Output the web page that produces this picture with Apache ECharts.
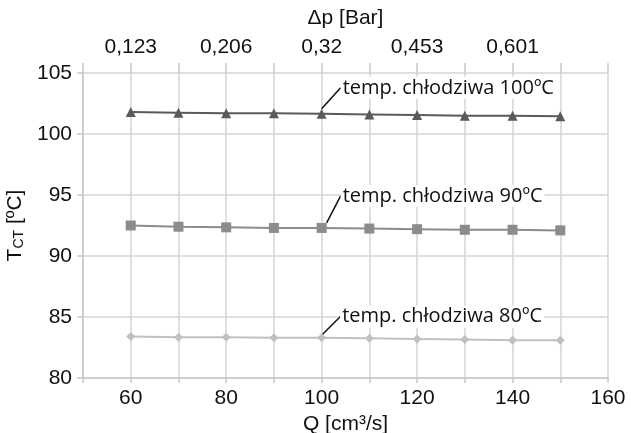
<!DOCTYPE html>
<html>
<head>
<meta charset="utf-8">
<script src="https://cdn.jsdelivr.net/npm/echarts@6/dist/echarts.min.js"></script>
<style>
  html, body { margin: 0; padding: 0; background: #fff; }
  #chart { width: 631px; height: 433px; }
</style>
</head>
<body>
<div id="chart"></div>
<script>
// przepływ Q [cm3/s]
var qValues = [60, 70, 80, 90, 100, 110, 120, 130, 140, 150];
// temperatura T_CT dla trzech temperatur chłodziwa
var t100 = [101.8, 101.75, 101.7, 101.7, 101.65, 101.6, 101.55, 101.5, 101.5, 101.45];
var t90 = [92.5, 92.4, 92.35, 92.3, 92.3, 92.25, 92.2, 92.15, 92.15, 92.1];
var t80 = [83.4, 83.35, 83.35, 83.3, 83.3, 83.25, 83.2, 83.15, 83.1, 83.1];
// górna oś: spadek ciśnienia
var dpAt = [60, 80, 100, 120, 140];
var dpLabels = ['0,123', '0,206', '0,32', '0,453', '0,601'];
var seriesNames = ['temp. chłodziwa 100ºC', 'temp. chłodziwa 90ºC', 'temp. chłodziwa 80ºC'];
var labelIdx = 4; // punkt Q=100 z opisem

var gray = '#c9c9c9';
var fontAx = 'Liberation Sans, Arial, sans-serif';

function pairs(ys) {
  return qValues.map(function (q, i) {
    var d = { value: [q, ys[i]] };
    if (i === labelIdx) {
      d.label = { show: true };
      d.labelLine = { show: true };
    }
    return d;
  });
}

function mkSeries(name, ys, color, symbol, size, dy) {
  return {
    name: name,
    type: 'line',
    data: pairs(ys),
    symbol: symbol,
    symbolSize: size,
    itemStyle: { color: color },
    lineStyle: { color: color, width: 2 },
    label: {
      show: false,
      position: 'right',
      distance: 0,
      formatter: name,
      color: '#111',
      fontFamily: 'Open Sans, Noto Sans, sans-serif',
      fontSize: 20,
      backgroundColor: '#fff',
      padding: [1, 2]
    },
    labelLine: { show: false, lineStyle: { color: '#111', width: 1.5 } },
    labelLayout: { dx: 14, dy: dy },
    z: 3
  };
}

var chart = echarts.init(document.getElementById('chart'));
chart.setOption({
  animation: false,
  grid: { left: 83, right: 23, top: 73, bottom: 55, outerBoundsMode: 'none', containLabel: false },
  xAxis: [
    {
      type: 'value', min: 50, max: 160, interval: 10,
      name: 'Q [cm³/s]', nameLocation: 'middle', nameGap: 33,
      nameTextStyle: { fontFamily: fontAx, fontSize: 21, color: '#111' },
      axisLine: { show: true, lineStyle: { color: gray, width: 1.5 } },
      axisTick: { show: true, length: 5, lineStyle: { color: gray, width: 1.5 } },
      splitLine: { show: true, lineStyle: { color: '#d4d4d4', width: 1.5 } },
      axisLabel: {
        fontFamily: fontAx, fontSize: 21, color: '#111', margin: 10,
        formatter: function (v) { return (v > 50 && v % 20 === 0) ? String(v) : ''; }
      }
    },
    {
      type: 'value', position: 'top', min: 50, max: 160, interval: 10,
      name: 'Δp [Bar]', nameLocation: 'middle', nameGap: 44,
      nameTextStyle: { fontFamily: fontAx, fontSize: 21, color: '#111' },
      axisLine: { show: false },
      axisTick: { show: true, length: 10, lineStyle: { color: gray, width: 1.5 } },
      splitLine: { show: false },
      axisLabel: {
        fontFamily: fontAx, fontSize: 21, color: '#111', margin: 15,
        formatter: function (v) {
          var k = dpAt.indexOf(v);
          return k >= 0 ? dpLabels[k] : '';
        }
      }
    }
  ],
  yAxis: {
    type: 'value', min: 80, max: 105, interval: 5,
    name: '{a|T}{b|CT}{a| [ºC]}', nameLocation: 'middle', nameGap: 55,
    nameTextStyle: {
      rich: {
        a: { fontFamily: fontAx, fontSize: 21, color: '#111' },
        b: { fontFamily: fontAx, fontSize: 14, color: '#111', padding: [8, 0, 0, 0] }
      }
    },
    axisLine: { show: true, lineStyle: { color: gray, width: 1.5 } },
    axisTick: { show: true, length: 6, lineStyle: { color: gray, width: 1.5 } },
    splitLine: { show: true, lineStyle: { color: '#d4d4d4', width: 1.5 } },
    axisLabel: { fontFamily: fontAx, fontSize: 21, color: '#111', margin: 11 }
  },
  series: [
    mkSeries(seriesNames[0], t100, '#5a5a5a', 'triangle', 10, -26),
    mkSeries(seriesNames[1], t90, '#8c8c8c', 'rect', 10, -32),
    mkSeries(seriesNames[2], t80, '#c0c0c0', 'diamond', 9, -21)
  ]
});
</script>
</body>
</html>
